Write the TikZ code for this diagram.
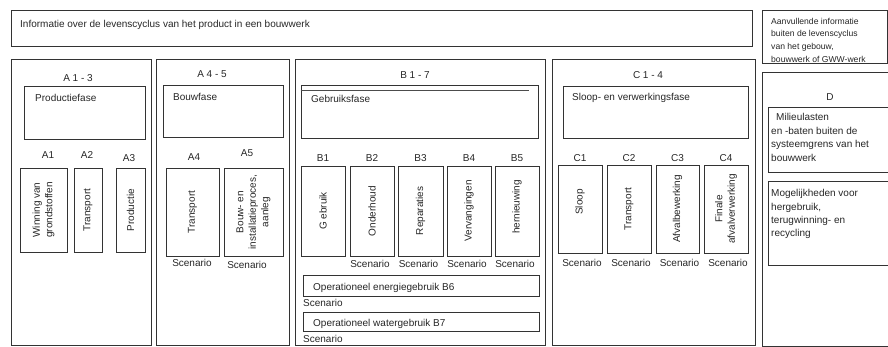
\documentclass[tikz,border=0pt]{standalone}
\usepackage{fontspec}
\setmainfont{Liberation Sans}
\usetikzlibrary{fit,calc}
\begin{document}
\begin{tikzpicture}[x=1pt,y=-1pt,
  box/.style={draw=black!80, line width=0.8pt, inner sep=0pt},
  lbl/.style={font=\fontsize{10}{13}\selectfont, text=black!85, inner sep=0pt},
  small/.style={font=\fontsize{8.6}{12.7}\selectfont, text=black!85, inner sep=0pt},
  rot/.style={lbl, rotate=90, align=center, font=\fontsize{10}{12.5}\selectfont}
]
\useasboundingbox (0,0) rectangle (888,347);

% top boxes
\node[box, fit={(11,10) (752,46)}] (info) {};
\node[lbl, anchor=base west] (infot) at (20,27.5) {Informatie over de levenscyclus van het product in een bouwwerk};
\node[box, fit={(762,10) (887,63)}] (aanv) {};
\node[small, anchor=north west, align=left] (aanvt) at (771,17.8) {Aanvullende informatie\\buiten de levenscyclus\\van het gebouw,\\bouwwerk of GWW-werk};

% panels
\node[box, fit={(11,59) (151,345)}] (pa13) {};
\node[box, fit={(156,59) (289,345)}] (pa45) {};
\node[box, fit={(295,59) (545,345)}] (pb17) {};
\node[box, fit={(552,59) (755,345)}] (pc14) {};
\node[box, fit={(762,72) (895,346)}] (pd) {};

\node[lbl] (ta13) at (78,78) {A 1 - 3};
\node[lbl] (ta45) at (212,74) {A 4 - 5};
\node[lbl] (tb17) at (415,75) {B 1 - 7};
\node[lbl] (tc14) at (648,75) {C 1 - 4};
\node[lbl] (td) at (830,97) {D};

% phase boxes
\node[box, fit={(24,86) (145,139)}] (prod) {};
\node[lbl, anchor=base west] (prodt) at (35,101.5) {Productiefase};
\node[box, fit={(163,85) (283,137)}] (bouw) {};
\node[lbl, anchor=base west] (bouwt) at (173,100.5) {Bouwfase};
\node[box, fit={(301,85) (538,138)}] (gebr) {};
\draw[black!70, line width=0.8pt] ($(gebr.north west)+(0,6)$) -- ($(gebr.north east)+(-9,6)$);
\node[lbl, anchor=base west] (gebrt) at (311,102.5) {Gebruiksfase};
\node[box, fit={(563,86) (748,138)}] (sloop) {};
\node[lbl, anchor=base west] (sloopt) at (572,100.5) {Sloop- en verwerkingsfase};

\node[box, fit={(768,107) (895,172)}] (mil) {};
\node[lbl, anchor=north west, align=left, font=\fontsize{10}{13.5}\selectfont] (milt) at (771,113.3) {\hspace*{5pt}Milieulasten\\en -baten buiten de\\systeemgrens van het\\bouwwerk};
\node[box, fit={(768,181) (895,265)}] (mog) {};
\node[lbl, anchor=north west, align=left, font=\fontsize{10}{13.4}\selectfont] (mogt) at (771,189.3) {Mogelijkheden voor\\hergebruik,\\terugwinning- en\\recycling};

% A modules
\node[box, fit={(20,168) (67,252)}] (a1) {};
\node[box, fit={(74,168) (102,252)}] (a2) {};
\node[box, fit={(116,168) (145,252)}] (a3) {};
\node[box, fit={(166,168) (219,256)}] (a4) {};
\node[box, fit={(224,168) (283,256)}] (a5) {};
\node[rot] at (a1.center) {Winning van\\grondstoffen};
\node[rot] at (a2.center) {Transport};
\node[rot] at (a3.center) {Productie};
\node[rot] at (a4.center) {Transport};
\node[rot] at (a5.center) {Bouw- en\\installatieproces,\\aanleg};
\node[lbl] (la1) at (48,155) {A1};
\node[lbl] (la2) at (87,155) {A2};
\node[lbl] (la3) at (129,158) {A3};
\node[lbl] (la4) at (194,157) {A4};
\node[lbl] (la5) at (247,153) {A5};
\node[lbl] (sa4) at (192,263) {Scenario};
\node[lbl] (sa5) at (247,265) {Scenario};

% B modules
\node[box, fit={(301,166) (345,256)}] (b1) {};
\node[box, fit={(350,166) (394,256)}] (b2) {};
\node[box, fit={(398,166) (443,256)}] (b3) {};
\node[box, fit={(447,166) (491,256)}] (b4) {};
\node[box, fit={(495,166) (539,256)}] (b5) {};
\node[rot] at (b1.center) {G ebruik};
\node[rot] at (b2.center) {Onderhoud};
\node[rot] at (b3.center) {Reparaties};
\node[rot] at (b4.center) {Vervangingen};
\node[rot] at ($(b5.center)+(0,-4)$) {hernieuwing};
\foreach \n in {1,...,5} {
  \node[lbl] (lb\n) at (b\n.center |- 0,158) {B\n};
}
\foreach \n in {2,...,5} {
  \node[lbl] (sb\n) at ($(b\n.center |- 0,264)+(-2,0)$) {Scenario};
}
\node[box, fit={(303,275) (539,296)}] (b6) {};
\node[lbl, anchor=base west] (b6t) at (313,290.5) {Operationeel energiegebruik B6};
\node[lbl, anchor=west] (sb6) at (303,303) {Scenario};
\node[box, fit={(303,312) (539,331)}] (b7) {};
\node[lbl, anchor=base west] (b7t) at (313,326.5) {Operationeel watergebruik B7};
\node[lbl, anchor=west] (sb7) at (303,339) {Scenario};

% C modules
\node[box, fit={(558,165) (602,253)}] (c1) {};
\node[box, fit={(607,165) (651,253)}] (c2) {};
\node[box, fit={(656,165) (699,253)}] (c3) {};
\node[box, fit={(704,165) (748,253)}] (c4) {};
\node[rot] at ($(c1.center)+(0,-7)$) {Sloop};
\node[rot] at (c2.center) {Transport};
\node[rot] at (c3.center) {Afvalbewerking};
\node[rot] at (c4.center) {Finale\\afvalverwerking};
\foreach \n in {1,...,4} {
  \node[lbl] (lc\n) at (c\n.center |- 0,158) {C\n};
  \node[lbl] (sc\n) at ($(c\n.center |- 0,263)+(2,0)$) {Scenario};
}
\end{tikzpicture}
\end{document}
